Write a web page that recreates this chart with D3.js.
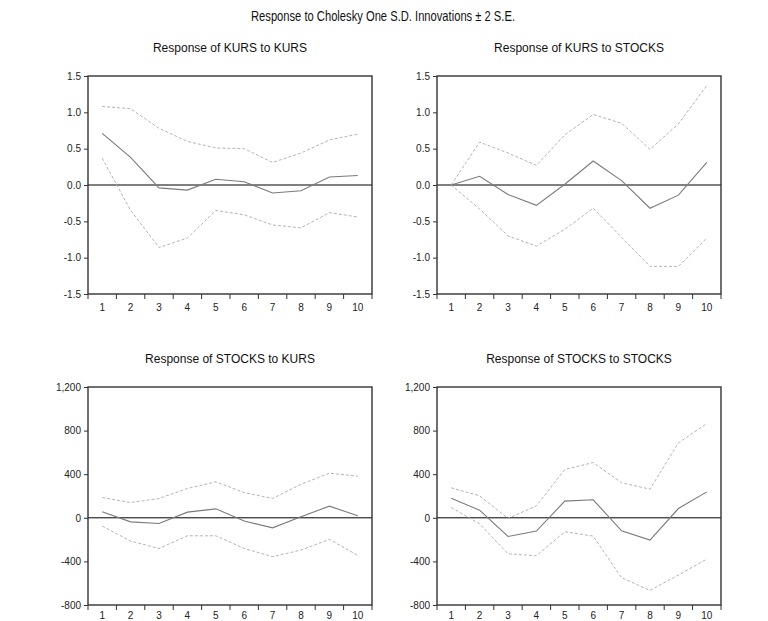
<!DOCTYPE html>
<html><head><meta charset="utf-8">
<script src="https://cdn.jsdelivr.net/npm/d3@7"></script>
<style>body{margin:0;background:#fff;} svg{display:block;}</style>
</head><body>
<script>
const periods = [1,2,3,4,5,6,7,8,9,10];
const mainTitle = "Response to Cholesky One S.D. Innovations \u00B1 2 S.E.";
const panelTitles = ["Response of KURS to KURS","Response of KURS to STOCKS","Response of STOCKS to KURS","Response of STOCKS to STOCKS"];
const kursTicks = [1.5,1.0,0.5,0.0,-0.5,-1.0,-1.5];
const stocksTicks = [1200,800,400,0,-400,-800];

const kursKursResp  = [0.71,0.38,-0.04,-0.07,0.08,0.045,-0.11,-0.08,0.11,0.13];
const kursKursUpper = [1.08,1.05,0.78,0.60,0.51,0.50,0.31,0.44,0.62,0.70];
const kursKursLower = [0.37,-0.35,-0.86,-0.73,-0.35,-0.41,-0.55,-0.59,-0.38,-0.44];

const kursStocksResp  = [0.0,0.12,-0.13,-0.28,0.01,0.33,0.06,-0.32,-0.14,0.31];
const kursStocksUpper = [0.0,0.59,0.44,0.27,0.69,0.97,0.85,0.49,0.84,1.37];
const kursStocksLower = [0.0,-0.33,-0.70,-0.84,-0.61,-0.32,-0.72,-1.12,-1.12,-0.73];

const stocksKursResp  = [55,-37,-52,52,82,-30,-92,9,107,18];
const stocksKursUpper = [186,140,177,269,330,232,177,308,409,382];
const stocksKursLower = [-76,-214,-281,-165,-165,-281,-357,-296,-198,-345];

const stocksStocksResp  = [180,70,-171,-122,153,165,-119,-205,85,238];
const stocksStocksUpper = [275,202,-6,110,443,507,321,263,687,864];
const stocksStocksLower = [95,-55,-330,-348,-128,-168,-550,-666,-525,-379];

const W = 768, H = 621;
const FONT = "'Liberation Sans', Arial, sans-serif";
const svg = d3.select("body").append("svg").attr("width", W).attr("height", H)
  .style("font-family", FONT);

svg.append("text").attr("x", 383).attr("y", 21).attr("text-anchor","middle")
  .attr("font-size", 14.5).attr("fill","#111")
  .attr("textLength", 264).attr("lengthAdjust","spacingAndGlyphs")
  .text(mainTitle);

const hy = f => (d => f(d).replace("\u2212", "-"));

const panels = [
  {x0:88, x1:372, y0:76, y1:294, dom:[-1.5,1.5], ticks:kursTicks, fmt:hy(d3.format(".1f")), resp:kursKursResp, up:kursKursUpper, lo:kursKursLower, title:panelTitles[0], ty:52, lx:311},
  {x0:437, x1:721, y0:76, y1:294, dom:[-1.5,1.5], ticks:kursTicks, fmt:hy(d3.format(".1f")), resp:kursStocksResp, up:kursStocksUpper, lo:kursStocksLower, title:panelTitles[1], ty:52, lx:311},
  {x0:88, x1:372, y0:387, y1:605, dom:[-800,1200], ticks:stocksTicks, fmt:hy(d3.format(",d")), resp:stocksKursResp, up:stocksKursUpper, lo:stocksKursLower, title:panelTitles[2], ty:363, lx:619},
  {x0:437, x1:721, y0:387, y1:605, dom:[-800,1200], ticks:stocksTicks, fmt:hy(d3.format(",d")), resp:stocksStocksResp, up:stocksStocksUpper, lo:stocksStocksLower, title:panelTitles[3], ty:363, lx:619}
];

panels.forEach(p => {
  const g = svg.append("g");
  const x = d3.scaleBand().domain(periods).range([p.x0, p.x1]);
  const y = d3.scaleLinear().domain(p.dom).range([p.y1, p.y0]);
  const cx = d => x(d) + x.bandwidth()/2;

  g.append("text").attr("x", (p.x0+p.x1)/2).attr("y", p.ty).attr("text-anchor","middle")
    .attr("font-size", 12).attr("fill","#111").text(p.title);

  const yAxis = d3.axisLeft(y).tickValues(p.ticks).tickFormat(p.fmt).tickSize(4).tickPadding(3);
  const ya = g.append("g").attr("transform", `translate(${p.x0},0)`).call(yAxis);
  ya.select(".domain").remove();
  ya.selectAll("line").attr("stroke","#333");
  ya.selectAll("text").attr("font-size",10).attr("fill","#222").attr("font-family",FONT);

  const bounds = periods.map(d => x(d)).concat([p.x1]);
  g.selectAll(".xt").data(bounds).join("line")
    .attr("x1", d=>d).attr("x2", d=>d).attr("y1", p.y1).attr("y2", p.y1+5)
    .attr("stroke","#333").attr("stroke-width",1);
  g.selectAll(".xl").data(periods).join("text")
    .attr("x", d=>cx(d)).attr("y", p.lx).attr("text-anchor","middle")
    .attr("font-size",10).attr("fill","#222").text(d=>d);

  g.append("line").attr("x1",p.x0).attr("x2",p.x1).attr("y1",y(0)).attr("y2",y(0))
    .attr("stroke","#000").attr("stroke-width",1);

  const line = d3.line().x((d,i)=>cx(periods[i])).y(d=>y(d));
  g.append("path").attr("d", line(p.up)).attr("fill","none").attr("stroke","#b4b4b4")
    .attr("stroke-width",1).attr("stroke-dasharray","3,2");
  g.append("path").attr("d", line(p.lo)).attr("fill","none").attr("stroke","#b4b4b4")
    .attr("stroke-width",1).attr("stroke-dasharray","3,2");
  g.append("path").attr("d", line(p.resp)).attr("fill","none").attr("stroke","#7a7a7a")
    .attr("stroke-width",1.1);

  g.append("rect").attr("x",p.x0).attr("y",p.y0).attr("width",p.x1-p.x0).attr("height",p.y1-p.y0)
    .attr("fill","none").attr("stroke","#333").attr("stroke-width",1.4);
});
</script>
</body></html>
